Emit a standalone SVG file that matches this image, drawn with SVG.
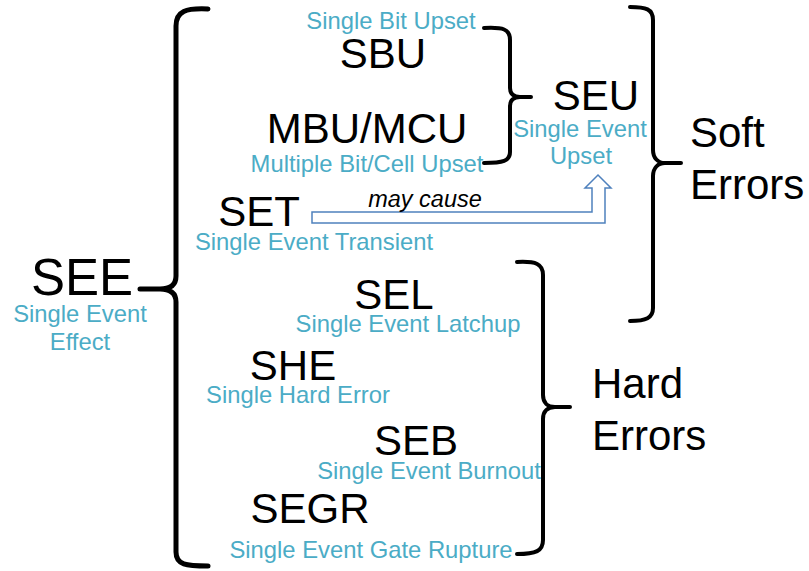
<svg xmlns="http://www.w3.org/2000/svg" width="809" height="571" viewBox="0 0 809 571">
<style>
.big{font-family:"Liberation Sans",Arial,sans-serif;font-size:42px;fill:#000;text-anchor:middle}
.sub{font-family:"Liberation Sans",Arial,sans-serif;font-size:23.8px;fill:#4bacc6;text-anchor:middle}
.grp{font-family:"Liberation Sans",Arial,sans-serif;font-size:42px;fill:#000}
.brace{fill:none;stroke:#000;stroke-width:4;stroke-linecap:round;stroke-linejoin:round}
</style>
<rect width="809" height="571" fill="#fff"/>
<g id="connectors">
<path class="brace" style="stroke-width:5" d="M208,9 C186,8 176,11 176,26 L176,276 C176,285 170,289 160,289 L140,289 M160,289 C170,289 176,293 176,302 L176,552 C176,565 186,566 208,566"/>
<path class="brace" d="M484,28 C503,27 510,29 510,40 L510,88 C510,94 514,97 520,97 L531,97 M520,97 C514,97 510,100 510,106 L510,152 C510,161 503,163 484,163"/>
<path class="brace" d="M630,7 C646,7 653,9 653,20 L653,150 C653,158 658,163 665,163 L681,163 M665,163 C658,163 653,168 653,176 L653,308 C653,318 646,321 630,321"/>
<path class="brace" d="M517,262 C536,261 543,264 543,275 L543,395 C543,403 548,407 555,407 L570,407 M555,407 C548,407 543,411 543,419 L543,540 C543,551 536,554 517,554"/>
<polygon points="312,212 592,212 592,188 585,188 598,175 611,188 605,188 605,223 312,223" fill="#fff" stroke="#4f81bd" stroke-width="1.5" stroke-linejoin="miter"/>
<text x="425" y="207" font-family="'Liberation Sans',Arial,sans-serif" font-size="23.5" font-style="italic" text-anchor="middle">may cause</text>
</g>
<g id="SEE"><text class="big" x="82" y="295" style="font-size:51px">SEE</text><text class="sub" x="80" y="322">Single Event</text><text class="sub" x="80" y="350">Effect</text></g>
<g id="SBU"><text class="sub" x="391" y="29">Single Bit Upset</text><text class="big" x="383" y="68">SBU</text></g>
<g id="MBU"><text class="big" x="367" y="143">MBU/MCU</text><text class="sub" x="367" y="172">Multiple Bit/Cell Upset</text></g>
<g id="SET"><text class="big" x="259" y="226">SET</text><text class="sub" x="314" y="250">Single Event Transient</text></g>
<g id="SEU"><text class="big" x="596" y="110">SEU</text><text class="sub" x="580" y="137">Single Event</text><text class="sub" x="581" y="164">Upset</text></g>
<g id="Soft"><text class="grp" x="690" y="147">Soft</text><text class="grp" x="690" y="199">Errors</text></g>
<g id="SEL"><text class="big" x="394" y="309">SEL</text><text class="sub" x="408" y="332">Single Event Latchup</text></g>
<g id="SHE"><text class="big" x="293" y="380">SHE</text><text class="sub" x="298" y="403">Single Hard Error</text></g>
<g id="SEB"><text class="big" x="416" y="455">SEB</text><text class="sub" x="429" y="479">Single Event Burnout</text></g>
<g id="SEGR"><text class="big" x="310" y="523">SEGR</text><text class="sub" x="371" y="558">Single Event Gate Rupture</text></g>
<g id="Hard"><text class="grp" x="592" y="398">Hard</text><text class="grp" x="592" y="450">Errors</text></g>
</svg>
